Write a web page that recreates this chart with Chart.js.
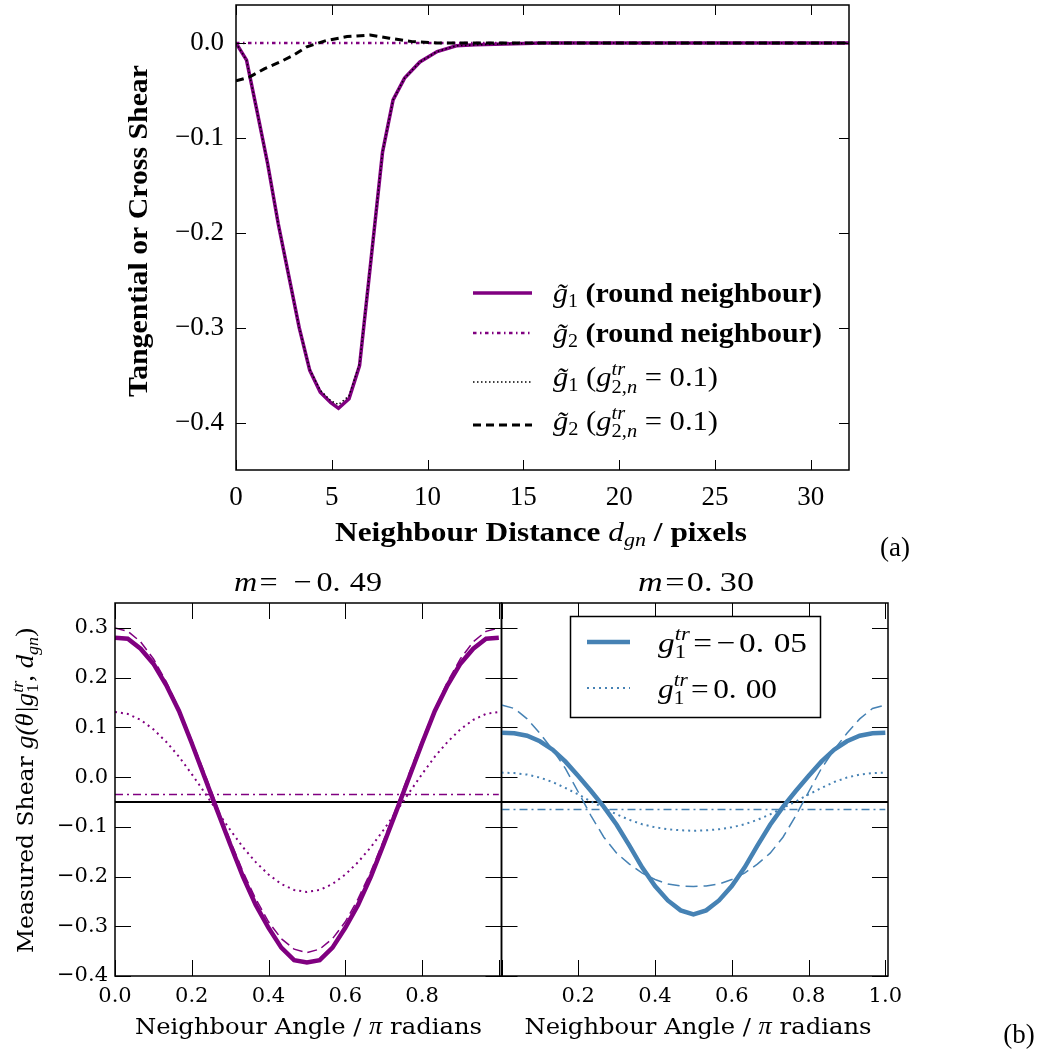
<!DOCTYPE html>
<html>
<head>
<meta charset="utf-8">
<title>Neighbour shear</title>
<script src="https://cdn.jsdelivr.net/npm/chart.js@4.4.0/dist/chart.umd.min.js"></script>
<style>
  body { margin: 0; background: #fff; }
  #wrap { position: relative; width: 1039px; height: 1055px; }
  #wrap canvas { position: absolute; left: 0; top: 0; }
</style>
</head>
<body>
<div id="wrap">
  <canvas id="distPanel" width="1039" height="1055"></canvas>
  <canvas id="negPanel" width="1039" height="1055"></canvas>
  <canvas id="posPanel" width="1039" height="1055"></canvas>
</div>
<script>
// ---- (a) shear against neighbour distance ----
const distA = [0, 0.55, 1.1, 1.65, 2.2, 2.75, 3.3, 3.85, 4.4, 4.95, 5.35, 5.9, 6.45, 7.05, 7.65, 8.2, 8.8, 9.6, 10.5, 11.5, 12.5, 14, 16, 20, 24, 28, 32];
const g1Round = [0, -0.018, -0.072, -0.127, -0.190, -0.245, -0.300, -0.345, -0.368, -0.379, -0.385, -0.375, -0.340, -0.228, -0.115, -0.060, -0.037, -0.020, -0.009, -0.003, -0.002, -0.001, 0, 0, 0, 0, 0];
const g2Round = [0, 0, 0, 0, 0, 0, 0, 0, 0, 0, 0, 0, 0, 0, 0, 0, 0, 0, 0, 0, 0, 0, 0, 0, 0, 0, 0];
const g1Sheared = [0, -0.018, -0.072, -0.127, -0.190, -0.245, -0.300, -0.344, -0.366, -0.377, -0.381, -0.372, -0.338, -0.227, -0.115, -0.060, -0.037, -0.020, -0.009, -0.003, -0.002, -0.001, 0, 0, 0, 0, 0];
const distB = [0, 0.7, 1.5, 2.3, 3.0, 3.7, 4.7, 5.8, 7.0, 8.0, 9.2, 10.5, 12, 14, 16, 20, 24, 28, 32];
const g2Sheared = [-0.040, -0.036, -0.027, -0.020, -0.013, -0.004, 0.0025, 0.0067, 0.0084, 0.005, 0.0014, 0, 0, 0, 0, 0, 0, 0, 0];
const distTicks = [0, 5, 10, 15, 20, 25, 30];
const shearTicksA = [0, -0.1, -0.2, -0.3, -0.4];

// ---- (b) shear against neighbour angle, m = -0.49 and m = 0.30 ----
const angles = [0, 0.0333, 0.0667, 0.1, 0.1333, 0.1667, 0.2, 0.2333, 0.2667, 0.3, 0.3333, 0.3667, 0.4, 0.4333, 0.4667, 0.5,
  0.5333, 0.5667, 0.6, 0.6333, 0.6667, 0.7, 0.7333, 0.7667, 0.8, 0.8333, 0.8667, 0.9, 0.9333, 0.9667, 1.0];
const negSolid = [0.280, 0.278, 0.258, 0.228, 0.185, 0.133, 0.068, 0.000, -0.068, -0.135, -0.200, -0.257, -0.303, -0.343, -0.368, -0.373,
  -0.368, -0.343, -0.303, -0.257, -0.200, -0.135, -0.068, 0.000, 0.068, 0.133, 0.185, 0.228, 0.258, 0.278, 0.280];
const negDashed = [0.300, 0.293, 0.272, 0.238, 0.192, 0.137, 0.074, 0.008, -0.061, -0.127, -0.190, -0.245, -0.291, -0.325, -0.346, -0.353,
  -0.346, -0.325, -0.291, -0.245, -0.190, -0.127, -0.061, 0.008, 0.074, 0.137, 0.192, 0.238, 0.272, 0.293, 0.300];
const negDotted = [0.131, 0.127, 0.115, 0.096, 0.071, 0.041, 0.006, -0.031, -0.069, -0.106, -0.141, -0.171, -0.196, -0.215, -0.227, -0.231,
  -0.227, -0.215, -0.196, -0.171, -0.141, -0.106, -0.069, -0.031, 0.006, 0.041, 0.071, 0.096, 0.115, 0.127, 0.131];
const posSolid = [0.089, 0.088, 0.083, 0.072, 0.055, 0.031, 0.002, -0.028, -0.060, -0.096, -0.138, -0.182, -0.219, -0.248, -0.268, -0.276,
  -0.268, -0.248, -0.219, -0.182, -0.138, -0.096, -0.060, -0.028, 0.002, 0.031, 0.055, 0.072, 0.083, 0.088, 0.089];
const posDashed = [0.145, 0.138, 0.117, 0.088, 0.055, 0.017, -0.030, -0.078, -0.121, -0.153, -0.175, -0.193, -0.206, -0.215, -0.219, -0.220,
  -0.219, -0.215, -0.206, -0.193, -0.175, -0.153, -0.121, -0.078, -0.030, 0.017, 0.055, 0.088, 0.117, 0.138, 0.145];
const posDotted = [0.009, 0.008, 0.005, -0.001, -0.010, -0.022, -0.035, -0.049, -0.062, -0.075, -0.086, -0.095, -0.101, -0.105, -0.107, -0.108,
  -0.107, -0.105, -0.101, -0.095, -0.086, -0.075, -0.062, -0.049, -0.035, -0.022, -0.010, -0.001, 0.005, 0.008, 0.009];
const flatX = [0, 1];
const negCross = [-0.035, -0.035];
const posCross = [-0.065, -0.065];
const trueX = [0, 1.01];
const trueShear = [-0.05, -0.05];
const angleTicks = [0, 0.2, 0.4, 0.6, 0.8, 1.0];
const angleLabelsNeg = [0, 0.2, 0.4, 0.6, 0.8];
const angleLabelsPos = [0.2, 0.4, 0.6, 0.8, 1.0];
const shearTicksB = [0.3, 0.2, 0.1, 0, -0.1, -0.2, -0.3, -0.4];

const PURPLE = '#800080';
const STEEL = '#4682b4';
const CM = '"Liberation Serif", "DejaVu Serif", serif';
const DV = '"DejaVu Serif", serif';
const cm = (size, style) => `${style || ''} ${size}px ${CM}`.trim();
const dv = (size, style) => `${style || ''} ${size}px ${DV}`.trim();

const W = 1039, H = 1055;

function pts(xs, ys) { return xs.map((x, i) => ({ x: x, y: ys[i] })); }

function series(xs, ys, color, width, dash, order) {
  return {
    data: pts(xs, ys), borderColor: color, borderWidth: width, borderDash: dash || [],
    pointRadius: 0, tension: 0, fill: false, order: order
  };
}

const signed = v => (v < 0 ? '\u2212' : '') + Math.abs(v).toFixed(1);

// text made of runs with their own font and baseline shift; fitW stretches it to a set width
function rich(ctx, parts, x, y, align, fitW) {
  let w = 0;
  parts.forEach(p => { ctx.font = p.f; if (!p.keep) w += (p.gap || 0) + ctx.measureText(p.t).width; });
  const s = fitW ? fitW / w : 1;
  const x0 = align === 'center' ? x - w * s / 2 : x;
  ctx.save();
  ctx.translate(x0, y);
  ctx.scale(s, 1);
  ctx.textAlign = 'left';
  ctx.textBaseline = 'alphabetic';
  ctx.fillStyle = '#000';
  let cx = 0;
  parts.forEach(p => {
    ctx.font = p.f;
    cx += p.gap || 0;
    ctx.fillText(p.t, cx, p.dy || 0);
    if (!p.keep) cx += ctx.measureText(p.t).width;
  });
  ctx.restore();
}

function sample(ctx, ds, x0, x1, y) {
  ctx.save();
  ctx.strokeStyle = ds.borderColor;
  ctx.lineWidth = ds.borderWidth;
  ctx.setLineDash(ds.borderDash || []);
  ctx.beginPath();
  ctx.moveTo(x0, y);
  ctx.lineTo(x1, y);
  ctx.stroke();
  ctx.restore();
}

// box round the axes with inward ticks on all four sides
function frameTicks(xTicks, yTicks, len) {
  return {
    id: 'frameTicks',
    afterDatasetsDraw(chart) {
      const { ctx, chartArea: a, scales: { x, y } } = chart;
      ctx.save();
      ctx.strokeStyle = '#000';
      ctx.lineWidth = 1;
      ctx.beginPath();
      xTicks.forEach(v => {
        const px = Math.round(x.getPixelForValue(v)) + 0.5;
        ctx.moveTo(px, a.bottom); ctx.lineTo(px, a.bottom - len);
        ctx.moveTo(px, a.top); ctx.lineTo(px, a.top + len);
      });
      yTicks.forEach(v => {
        const py = Math.round(y.getPixelForValue(v)) + 0.5;
        ctx.moveTo(a.left, py); ctx.lineTo(a.left + len, py);
        ctx.moveTo(a.right, py); ctx.lineTo(a.right - len, py);
      });
      ctx.stroke();
      ctx.lineWidth = 1.5;
      ctx.strokeRect(a.left, a.top, a.width, a.height);
      ctx.restore();
    }
  };
}

function noOverflow(s) {
  s.paddingTop = 0; s.paddingBottom = 0; s.paddingLeft = 0; s.paddingRight = 0;
}

function makePanel(id, area, cfg) {
  return new Chart(document.getElementById(id), {
    type: 'line',
    data: { datasets: cfg.datasets },
    options: {
      responsive: false,
      animation: false,
      events: [],
      layout: { padding: { left: 0, top: area.top, right: W - area.right, bottom: 0 } },
      plugins: { legend: { display: false }, tooltip: { enabled: false } },
      scales: {
        x: {
          type: 'linear', min: cfg.xRange[0], max: cfg.xRange[1],
          grid: { display: false, drawTicks: false }, border: { display: false },
          afterFit: s => { s.height = H - area.bottom; noOverflow(s); },
          afterBuildTicks: s => { s.ticks = cfg.xLabels.map(v => ({ value: v })); },
          ticks: { padding: cfg.xPad, color: '#000', font: cfg.tickFont, maxRotation: 0, autoSkip: false, callback: cfg.xFmt }
        },
        y: {
          type: 'linear', min: cfg.yRange[0], max: cfg.yRange[1],
          grid: { display: false, drawTicks: false }, border: { display: false },
          afterFit: s => { s.width = area.left; noOverflow(s); },
          afterBuildTicks: s => { s.ticks = cfg.yTicks.map(v => ({ value: v })); },
          ticks: { display: cfg.yShow, padding: cfg.yPad, color: '#000', font: cfg.tickFont, autoSkip: false, callback: signed }
        }
      }
    },
    plugins: [frameTicks(cfg.xTicks, cfg.yTicks, cfg.tickLen), { id: 'notes', afterDraw: cfg.notes }]
  });
}

// ---- panel (a) ----
makePanel('distPanel', { left: 236, top: 5, right: 849, bottom: 470 }, {
  datasets: [
    series(distA, g1Round, PURPLE, 3.5, [], 4),
    series(distA, g2Round, PURPLE, 2.5, [3.5, 3.5, 1.5, 3.5], 3),
    series(distA, g1Sheared, '#000', 1.5, [1.5, 2.5], 2),
    series(distB, g2Sheared, '#000', 3, [8, 5], 1)
  ],
  xRange: [0, 32], yRange: [-0.45, 0.04],
  xTicks: distTicks, xLabels: distTicks, yTicks: shearTicksA, yShow: true,
  xFmt: v => String(v), tickFont: { family: CM, size: 27 }, xPad: 12, yPad: 12, tickLen: 10,
  notes(chart) {
    const ctx = chart.ctx;
    const ds = chart.data.datasets;
    ctx.save();
    ctx.translate(147, 231);
    ctx.rotate(-Math.PI / 2);
    rich(ctx, [{ t: 'Tangential or Cross Shear', f: cm(27, 'bold') }], 0, 0, 'center', 332);
    ctx.restore();
    rich(ctx, [
      { t: 'Neighbour Distance ', f: cm(27, 'bold') }, { t: 'd', f: cm(27, 'italic') },
      { t: 'gn', f: cm(19, 'italic'), dy: 5 }, { t: ' / pixels', f: cm(27, 'bold') }
    ], 541, 541, 'center', 412);
    rich(ctx, [{ t: '(a)', f: cm(27) }], 895, 556, 'center');

    const gt = n => [{ t: 'g\u0303', f: cm(27, 'italic') }, { t: n, f: cm(18), dy: 5 }];
    const shearNote = [
      { t: ' (', f: cm(27) }, { t: 'g', f: cm(27, 'italic') },
      { t: 'tr', f: cm(18, 'italic'), dy: -11, keep: true }, { t: '2,', f: cm(18), dy: 7 },
      { t: 'n', f: cm(18, 'italic'), dy: 7 }, { t: ' = 0.1)', f: cm(27) }
    ];
    const rows = [
      { y: 293, base: 302, fit: 269, parts: gt('1').concat([{ t: ' (round neighbour)', f: cm(27, 'bold') }]) },
      { y: 333, base: 342, fit: 269, parts: gt('2').concat([{ t: ' (round neighbour)', f: cm(27, 'bold') }]) },
      { y: 382, base: 386, fit: 165, parts: gt('1').concat(shearNote) },
      { y: 425, base: 430, fit: 165, parts: gt('2').concat(shearNote) }
    ];
    rows.forEach((r, i) => {
      sample(ctx, ds[i], 473, 532, r.y);
      rich(ctx, r.parts, 553, r.base, 'left', r.fit);
    });
  }
});

// ---- panel (b), left: m = -0.49 ----
makePanel('negPanel', { left: 115, top: 603, right: 501.5, bottom: 976 }, {
  datasets: [
    series(angles, negSolid, PURPLE, 4.5, [], 2),
    series(angles, negDotted, PURPLE, 2, [2, 4], 3),
    series(angles, negDashed, PURPLE, 1.5, [10, 5], 4),
    series(flatX, negCross, PURPLE, 1.5, [8, 4, 2, 4], 5),
    series(trueX, trueShear, '#000', 2, [], 6)
  ],
  xRange: [0, 1.007], yRange: [-0.4, 0.35],
  xTicks: angleTicks, xLabels: angleLabelsNeg, yTicks: shearTicksB, yShow: true,
  xFmt: v => v.toFixed(1), tickFont: { family: DV, size: 21 }, xPad: 8, yPad: 7, tickLen: 16,
  notes(chart) {
    const ctx = chart.ctx;
    rich(ctx, [
      { t: 'm', f: cm(28, 'italic') }, { t: '=', f: cm(28), gap: 2 }, { t: '\u2212', f: cm(28), gap: 14 },
      { t: '0.', f: cm(28), gap: 4 }, { t: '49', f: cm(28), gap: 8 }
    ], 308, 591, 'center', 148);
    rich(ctx, [
      { t: 'Neighbour Angle / ', f: dv(23) }, { t: '\u03c0', f: cm(25, 'italic') }, { t: ' radians', f: dv(23) }
    ], 308.5, 1034, 'center', 347);
    ctx.save();
    ctx.translate(33, 790.5);
    ctx.rotate(-Math.PI / 2);
    rich(ctx, [
      { t: 'Measured Shear ', f: dv(22) }, { t: 'g(\u03b8|g', f: cm(25, 'italic') },
      { t: 'tr', f: cm(17, 'italic'), dy: -10, keep: true }, { t: '1', f: cm(17), dy: 5 },
      { t: ', d', f: cm(25, 'italic'), gap: 2 }, { t: 'gn', f: cm(17, 'italic'), dy: 5 }, { t: ')', f: cm(25) }
    ], 0, 0, 'center', 325);
    ctx.restore();
  }
});

// ---- panel (b), right: m = 0.30 ----
makePanel('posPanel', { left: 501.5, top: 603, right: 888, bottom: 976 }, {
  datasets: [
    series(angles, posSolid, STEEL, 4.5, [], 2),
    series(angles, posDotted, STEEL, 2, [2, 4], 3),
    series(angles, posDashed, STEEL, 1.5, [12, 6], 4),
    series(flatX, posCross, STEEL, 1.5, [8, 4, 2, 4], 5),
    series(trueX, trueShear, '#000', 2, [], 6)
  ],
  xRange: [0, 1.007], yRange: [-0.4, 0.35],
  xTicks: angleTicks, xLabels: angleLabelsPos, yTicks: shearTicksB, yShow: false,
  xFmt: v => v.toFixed(1), tickFont: { family: DV, size: 21 }, xPad: 8, yPad: 7, tickLen: 16,
  notes(chart) {
    const ctx = chart.ctx;
    const ds = chart.data.datasets;
    rich(ctx, [
      { t: 'm', f: cm(28, 'italic') }, { t: '=', f: cm(28), gap: 2 },
      { t: '0.', f: cm(28), gap: 2 }, { t: '30', f: cm(28), gap: 6 }
    ], 696, 591, 'center', 116);
    rich(ctx, [
      { t: 'Neighbour Angle / ', f: dv(23) }, { t: '\u03c0', f: cm(25, 'italic') }, { t: ' radians', f: dv(23) }
    ], 698, 1034, 'center', 347);
    rich(ctx, [{ t: '(b)', f: cm(27) }], 1019, 1043, 'center');

    // legend box
    ctx.save();
    ctx.fillStyle = '#fff';
    ctx.fillRect(570.5, 616.5, 250, 101);
    ctx.strokeStyle = '#000';
    ctx.lineWidth = 1.5;
    ctx.strokeRect(570.5, 616.5, 250, 101);
    ctx.restore();
    const gtr = [
      { t: 'g', f: cm(28, 'italic') }, { t: 'tr', f: cm(19, 'italic'), dy: -12, keep: true },
      { t: '1', f: cm(19), dy: 6 }, { t: '=', f: cm(28), gap: 6 }
    ];
    sample(ctx, ds[0], 587, 630, 642);
    rich(ctx, gtr.concat([{ t: '\u2212', f: cm(28), gap: 4 }, { t: '0.', f: cm(28), gap: 3 }, { t: '05', f: cm(28), gap: 8 }]), 658, 652, 'left', 149);
    sample(ctx, ds[1], 587, 630, 688);
    rich(ctx, gtr.concat([{ t: '0.', f: cm(28), gap: 4 }, { t: '00', f: cm(28), gap: 8 }]), 658, 698, 'left', 119);
  }
});
</script>
</body>
</html>
